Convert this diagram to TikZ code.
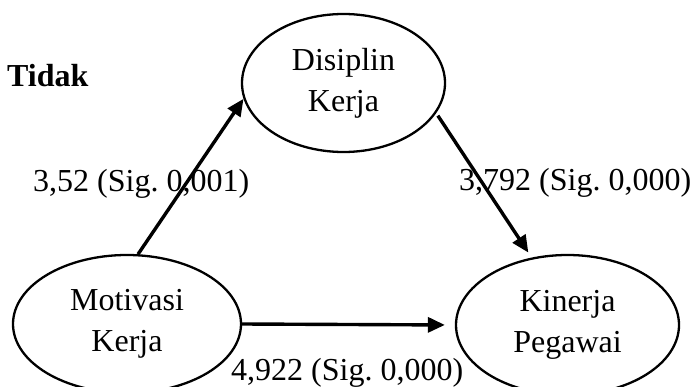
\documentclass[tikz,border=0pt]{standalone}
\usepackage{fontspec}
\setmainfont{Liberation Serif}
\usetikzlibrary{arrows.meta,shapes.geometric}
\frenchspacing

\begin{document}
\begin{tikzpicture}[x=1pt,y=-1pt,
  every node/.style={font=\fontsize{32}{41}\selectfont},
  varnode/.style={ellipse,draw,line width=2.3pt,align=center,inner sep=0pt},
  effect/.style={line width=3.4pt,-{Triangle[length=17pt,width=15pt]}},
  coef/.style={anchor=base west,inner sep=0pt}]
  \useasboundingbox (0,0) rectangle (692,387);
  \clip (0,0) rectangle (692,387);

  % variables of the path model
  \node[varnode,minimum width=203pt,minimum height=138pt] (dis) at (343.5,83) {Disiplin\\Kerja};
  \node[varnode,minimum width=228pt,minimum height=138pt] (mot) at (127,324) {Motivasi\\Kerja};
  \node[varnode,minimum width=223pt,minimum height=140pt] (kin) at (567.5,325) {Kinerja\\Pegawai};

  % direct and indirect effects
  \draw[effect] (mot.81) -- (dis.189);
  \draw[effect,shorten <=3pt,shorten >=6pt] (dis.342) -- (kin.118);
  \draw[effect,shorten >=10pt] (mot.east) -- (kin.west);

  % coefficients
  \node[coef,font=\fontsize{32}{41}\selectfont\bfseries] (tidak) at (7,87) {Tidak};
  \node[coef] (c1) at (33,192) {3,52 (Sig. 0,001)};
  \node[coef] (c2) at (459,190) {3,792 (Sig. 0,000)};
  \node[coef] (c3) at (231,380.5) {4,922 (Sig. 0,000)};
\end{tikzpicture}
\end{document}
